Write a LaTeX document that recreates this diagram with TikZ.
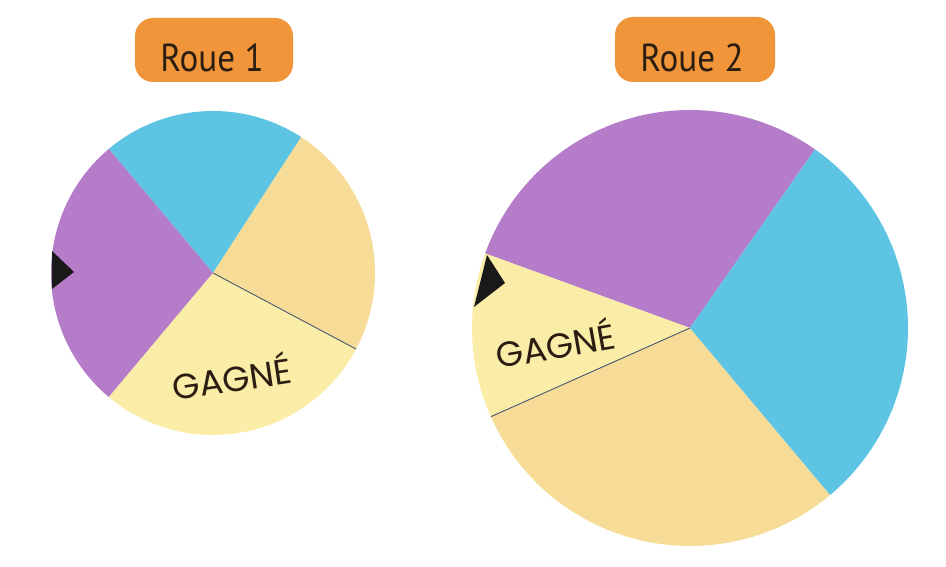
\documentclass[tikz,border=0pt]{standalone}
\usepackage{fontspec}
\usetikzlibrary{calc}
\setmainfont{PT Sans}
\newfontfamily\gfont{Poppins}
\definecolor{wpurple}{HTML}{B57DC9}
\definecolor{wblue}{HTML}{5DC5E3}
\definecolor{wgagne}{HTML}{FAEDA8}
\definecolor{wtan}{HTML}{F6DC96}
\definecolor{worange}{HTML}{F0953A}
\definecolor{wtext}{HTML}{2B1D12}
\definecolor{wline}{HTML}{4A5670}
\tikzset{
  labelbox/.style={fill=worange, rounded corners=18pt, minimum width=158pt, minimum height=64pt, inner sep=0pt},
  labeltext/.style={anchor=base, text=wtext, font=\fontsize{39}{41}\selectfont, inner sep=0pt, xscale=0.9, transform shape},
  gagnetext/.style={anchor=base, text=wtext, font=\gfont\fontsize{35}{37}\selectfont, inner sep=0pt},
  thinline/.style={draw=wline, line width=0.9pt},
  pointer/.style={fill=black!90}
}
\newcommand{\wsector}[5]{% center, radius, start, end, color
  \fill[#5] (#1) -- ++(#3:#2) arc[start angle=#3, end angle=#4, radius=#2] -- cycle;}
\begin{document}
\begin{tikzpicture}[x=1pt,y=1pt]
\useasboundingbox (0,0) rectangle (946,567);
\fill[white] (0,0) rectangle (946,567);

% ---- Roue 1 ----
\node[labelbox] (box1) at (214,517) {};
\node[labeltext] (title1) at (212,495) {Roue 1};
\coordinate (c1) at (213,294);
\wsector{c1}{162}{57}{130}{wblue}
\wsector{c1}{162}{130}{230}{wpurple}
\wsector{c1}{162}{230}{332}{wgagne}
\wsector{c1}{162}{332}{417}{wtan}
\coordinate (e1) at ($(c1)+(332:162)$);
\draw[thinline] (c1) -- (e1);
\fill[pointer] (52,316) -- (74,295) -- (52,278) -- cycle;
\node[gagnetext, rotate=8.4] (g1) at (234,175) {GAGNÉ};

% ---- Roue 2 ----
\node[labelbox, minimum width=160pt, minimum height=65pt] (box2) at (695,517.5) {};
\node[labeltext] (title2) at (692,495) {Roue 2};
\coordinate (c2) at (690,239);
\wsector{c2}{218}{55}{160}{wpurple}
\wsector{c2}{218}{160}{204}{wgagne}
\wsector{c2}{218}{204}{310}{wtan}
\wsector{c2}{218}{310}{415}{wblue}
\coordinate (e2) at ($(c2)+(204:218)$);
\draw[thinline] (c2) -- (e2);
\fill[pointer] (487,312) -- (505,284) -- (474,260) -- cycle;
\node[gagnetext, rotate=10] (g2) at (558,208.5) {GAGNÉ};
\end{tikzpicture}
\end{document}
